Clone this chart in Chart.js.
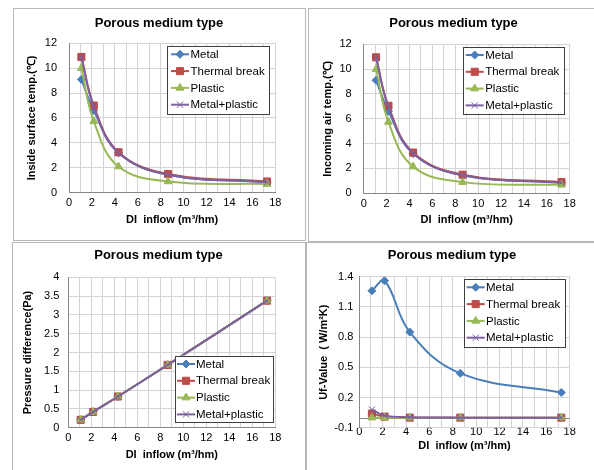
<!DOCTYPE html>
<html>
<head>
<meta charset="utf-8">
<script src="https://cdn.jsdelivr.net/npm/chart.js@4.4.0/dist/chart.umd.min.js"></script>
<style>
  html, body { margin: 0; padding: 0; background: #fff; }
  body { width: 594px; height: 470px; position: relative; overflow: hidden; }
  .frame { position: absolute; border: 1px solid #b8b8b8; box-sizing: border-box; }
  canvas { position: absolute; }
</style>
</head>
<body>
<div class="frame" style="left:13px;top:8px;width:293px;height:233px;"></div>
<div class="frame" style="left:308px;top:8px;width:300px;height:234px;"></div>
<div class="frame" style="left:12px;top:242px;width:294px;height:240px;"></div>
<div class="frame" style="left:306px;top:242px;width:300px;height:240px;"></div>
<canvas id="surface"></canvas>
<canvas id="air"></canvas>
<canvas id="pressure"></canvas>
<canvas id="uf"></canvas>
<script>
// données
const flow = [1.08, 2.16, 4.32, 8.64, 17.28]; // DI inflow (m3/hm)
const seriesNames = ["Metal", "Thermal break", "Plastic", "Metal+plastic"];

const surfMetal = [9.1, 6.6, 3.2, 1.45, 0.85];
const surfThermal = [10.9, 7.0, 3.25, 1.5, 0.9];
const surfPlastic = [10.0, 5.75, 2.1, 0.9, 0.7];
const surfMix = [10.9, 6.9, 3.2, 1.45, 0.85];

const airMetal = [9.1, 6.6, 3.2, 1.45, 0.85];
const airThermal = [10.95, 7.05, 3.28, 1.5, 0.9];
const airPlastic = [10.0, 5.75, 2.15, 0.9, 0.68];
const airMix = [10.95, 6.95, 3.22, 1.45, 0.85];

const presMetal = [0.21, 0.42, 0.83, 1.67, 3.38];
const presThermal = [0.21, 0.42, 0.83, 1.67, 3.38];
const presPlastic = [0.21, 0.42, 0.83, 1.67, 3.38];
const presMix = [0.21, 0.42, 0.83, 1.67, 3.38];

const ufMetal = [1.26, 1.36, 0.85, 0.44, 0.25];
const ufThermal = [0.04, 0.01, 0.0, 0.0, 0.0];
const ufPlastic = [0.0, 0.0, 0.0, 0.0, 0.0];
const ufMix = [0.08, 0.02, 0.005, 0.0, 0.0];

const xTicks = [0, 1, 2, 3, 4, 5, 6, 7, 8, 9, 10, 11, 12, 13, 14, 15, 16, 17, 18];
const tempTicks = [0, 2, 4, 6, 8, 10, 12];
const presTicks = [0, 0.5, 1, 1.5, 2, 2.5, 3, 3.5, 4];
const ufTicks = [-0.1, 0.2, 0.5, 0.8, 1.1, 1.4];

const chartTitle = "Porous medium type";
const xTitle = "DI  inflow (m³/hm)";

// styles
const FONT = '"Liberation Sans", Arial, sans-serif';
const colors = ["#4a7ebb", "#be4b48", "#98b954", "#7d60a0"];
const markers = ["rectRot", "rect", "triangle", "crossRot"];
const markerRadius = [4, 5, 4.5, 4.5];

// légende dessinée dans la zone du graphique
const insideLegend = {
  id: "insideLegend",
  afterDraw(chart, args, opts) {
    const ctx = chart.ctx;
    const { x, y, w, h, sx, tx } = opts;
    ctx.save();
    ctx.fillStyle = "#fff";
    ctx.fillRect(x, y, w, h);
    ctx.strokeStyle = "#404040";
    ctx.lineWidth = 1;
    ctx.strokeRect(Math.round(x) + 0.5, Math.round(y) + 0.5, Math.round(w), Math.round(h));
    chart.data.datasets.forEach((ds, i) => {
      const cy = y + 8.3 + i * 16.8;
      ctx.strokeStyle = ds.borderColor;
      ctx.fillStyle = ds.borderColor;
      ctx.lineWidth = 2;
      ctx.beginPath();
      ctx.moveTo(x + sx, cy);
      ctx.lineTo(x + sx + 18, cy);
      ctx.stroke();
      ctx.lineWidth = 1;
      Chart.helpers.drawPoint(ctx, { pointStyle: ds.pointStyle, radius: ds.pointRadius, rotation: 0, borderWidth: 1 }, x + sx + 9, cy);
      ctx.fillStyle = "#000";
      ctx.font = "11.5px " + FONT;
      ctx.textBaseline = "middle";
      ctx.textAlign = "left";
      ctx.fillText(ds.label, x + tx, cy + 0.5);
    });
    ctx.restore();
  }
};

// ligne de l'axe horizontal à y = 0
const zeroLine = {
  id: "zeroLine",
  beforeDatasetsDraw(chart, args, opts) {
    if (!opts.show) return;
    const { ctx, chartArea } = chart;
    const py = Math.round(chart.scales.y.getPixelForValue(0)) + 0.5;
    ctx.save();
    ctx.strokeStyle = "#868686";
    ctx.lineWidth = 1;
    ctx.beginPath();
    ctx.moveTo(chartArea.left, py);
    ctx.lineTo(chartArea.right, py);
    ctx.stroke();
    ctx.restore();
  }
};

function drawPanel(id, p) {
  const cv = document.getElementById(id);
  const [L, T, W, H] = p.box;
  const [aL, aT, aR, aB] = p.area;
  cv.width = W; cv.height = H;
  cv.style.left = L + "px"; cv.style.top = T + "px";
  cv.style.width = W + "px"; cv.style.height = H + "px";

  const titleTop = p.titleY - T - 7.8;
  const titleBottom = aT - T - 15.6 - titleTop;

  new Chart(cv, {
    type: "line",
    data: {
      datasets: p.series.map((vals, i) => ({
        label: seriesNames[i],
        data: vals.map((v, k) => ({ x: flow[k], y: v })),
        borderColor: colors[i],
        backgroundColor: colors[i],
        pointStyle: markers[i],
        pointRadius: markerRadius[i],
        pointBorderWidth: 1,
        borderWidth: 2,
        tension: 0.4,
        order: 3 - i,
        yAxisID: "y"
      }))
    },
    options: {
      responsive: false,
      animation: false,
      layout: { padding: 0 },
      plugins: {
        legend: { display: false },
        tooltip: { enabled: false },
        title: {
          display: true, text: chartTitle, color: "#000",
          font: { family: FONT, size: 13, weight: "bold", lineHeight: 1.2 },
          padding: { top: titleTop, bottom: titleBottom }
        },
        insideLegend: {
          x: p.legend[0] - L, y: p.legend[1] - T, w: p.legend[2], h: p.legend[3],
          sx: p.legend[4], tx: p.legend[5]
        },
        zeroLine: { show: !!p.zeroLine }
      },
      scales: {
        x: {
          type: "linear", min: 0, max: 18,
          afterBuildTicks: s => { s.ticks = xTicks.map(v => ({ value: v })); },
          afterFit: a => { a.height = T + H - aB; },
          ticks: {
            autoSkip: false, maxRotation: 0, padding: p.xPad, color: "#000",
            font: { family: FONT, size: 11 },
            callback: v => (v % 2 === 0 ? String(v) : "")
          },
          grid: { color: "#d4d4d4", drawTicks: false },
          border: p.zeroLine ? { display: false } : { color: "#868686" },
          title: {
            display: true, text: xTitle, color: "#000",
            font: { family: FONT, size: 11, weight: "bold", lineHeight: 1.2 },
            padding: { top: 0, bottom: T + H - p.xTitleY - 6.6 }
          }
        },
        y: {
          type: "linear", position: "left",
          min: p.yTicks[0], max: p.yTicks[p.yTicks.length - 1],
          afterBuildTicks: s => { s.ticks = p.yTicks.map(v => ({ value: v })); },
          afterFit: a => { a.width = aL - L; },
          ticks: {
            padding: p.yPad, color: "#000",
            font: { family: FONT, size: 11 },
            callback: v => String(Math.round(v * 10) / 10)
          },
          grid: { color: "#d4d4d4", drawTicks: false },
          border: { color: "#868686" },
          title: {
            display: true, text: p.yTitle, color: "#000",
            font: { family: FONT, size: 11, weight: "bold", lineHeight: 1.2 },
            padding: { top: p.yTitleX - L - 6.6, bottom: 0 }
          }
        },
        yr: {
          type: "linear", position: "right", display: true,
          afterFit: a => { a.width = L + W - aR; },
          grid: { display: false, drawOnChartArea: false },
          border: { display: false },
          ticks: { display: false }
        }
      }
    },
    plugins: [zeroLine, insideLegend]
  });
}

drawPanel("surface", {
  box: [13, 9, 292, 231], area: [69, 43.3, 275.3, 192.7],
  titleY: 23, yTitleX: 32.3, xTitleY: 220, xPad: 4, yPad: 12,
  yTitle: "Inside surface temp.(℃)", yTicks: tempTicks,
  legend: [167, 46, 102, 68, 4, 23.5],
  series: [surfMetal, surfThermal, surfPlastic, surfMix]
});

drawPanel("air", {
  box: [308, 9, 291, 231], area: [363.7, 44.3, 569.7, 193.3],
  titleY: 23, yTitleX: 327.7, xTitleY: 220.3, xPad: 4, yPad: 12,
  yTitle: "Incoming air temp.(℃)", yTicks: tempTicks,
  legend: [462.7, 46.7, 101, 66.5, 3, 22.5],
  series: [airMetal, airThermal, airPlastic, airMix]
});

drawPanel("pressure", {
  box: [12, 242, 293, 228], area: [68.3, 277.3, 275.3, 427.7],
  titleY: 255.7, yTitleX: 28.3, xTitleY: 455, xPad: 4, yPad: 9,
  yTitle: "Pressure difference(Pa)", yTicks: presTicks,
  legend: [175, 355.7, 98, 66, 2, 21],
  series: [presMetal, presThermal, presPlastic, presMix]
});

drawPanel("uf", {
  box: [306, 242, 292, 228], area: [359.3, 276.7, 569.7, 427.7],
  titleY: 255.7, yTitleX: 323.7, xTitleY: 445.7, xPad: -2.5, yPad: 6,
  yTitle: "Uf-Value  ( W/m²K)", yTicks: ufTicks, zeroLine: true,
  legend: [463.7, 279, 101, 68, 3, 22.3],
  series: [ufMetal, ufThermal, ufPlastic, ufMix]
});
</script>
</body>
</html>
